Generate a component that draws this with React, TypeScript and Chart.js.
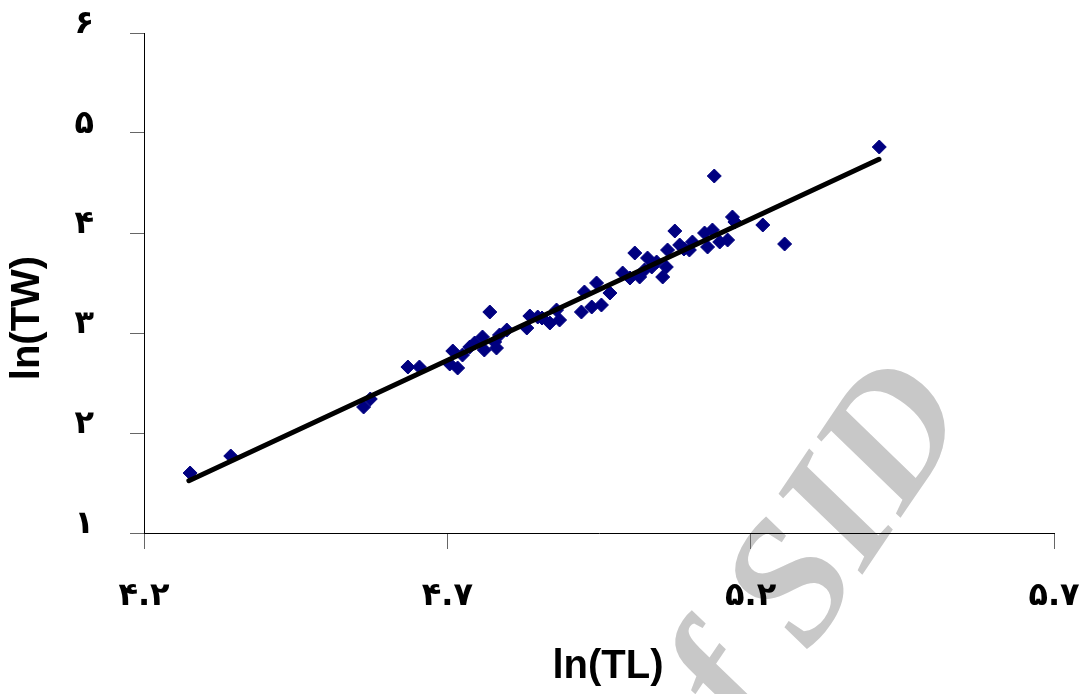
import React, { useEffect, useRef } from 'react';
import { Chart, registerables } from 'chart.js';

Chart.register(...registerables);

// Observed fish measurements (natural log of total length and total weight)
const lnTL = [
  4.276, 4.343, 4.562, 4.573, 4.635, 4.654, 4.704, 4.709, 4.717, 4.725,
  4.737, 4.745, 4.758, 4.761, 4.770, 4.778, 4.781, 4.786, 4.798, 4.831,
  4.836, 4.849, 4.856, 4.869, 4.880, 4.885, 4.921, 4.926, 4.938, 4.946,
  4.954, 4.968, 4.989, 5.001, 5.009, 5.017, 5.025, 5.030, 5.037, 5.045,
  5.055, 5.061, 5.063, 5.075, 5.083, 5.090, 5.099, 5.104, 5.124, 5.129,
  5.137, 5.140, 5.149, 5.162, 5.170, 5.174, 5.220, 5.256, 5.412,
];
const lnTW = [
  1.60, 1.77, 2.26, 2.34, 2.66, 2.66, 2.69, 2.82, 2.65, 2.78,
  2.86, 2.90, 2.96, 2.83, 3.21, 2.91, 2.85, 2.98, 3.03, 3.05,
  3.17, 3.16, 3.15, 3.10, 3.23, 3.13, 3.21, 3.41, 3.26, 3.50,
  3.28, 3.40, 3.60, 3.55, 3.80, 3.56, 3.63, 3.75, 3.66, 3.71,
  3.56, 3.66, 3.83, 4.02, 3.88, 3.84, 3.83, 3.91, 4.00, 3.86,
  4.03, 4.57, 3.91, 3.93, 4.16, 4.11, 4.08, 3.89, 4.86,
];

// Fitted trend line end points
const trendTL = [4.274, 5.4115];
const trendTW = [1.523, 4.737];

const xTicks = [4.2, 4.7, 5.2, 5.7];
const xTickLabels = ['۴.۲', '۴.۷', '۵.۲', '۵.۷'];
const yTicks = [1, 2, 3, 4, 5, 6];
const yTickLabels = ['۱', '۲', '۳', '۴', '۵', '۶'];

const xTitle = 'ln(TL)';
const yTitle = 'ln(TW)';
const watermarkText = 'Archive of SID';

const titlesPlugin = {
  id: 'titlesPlugin',
  beforeDraw(chart: any) {
    const ctx = chart.ctx;
    ctx.save();
    ctx.fillStyle = '#c8c8c8';
    ctx.font = 'italic bold 175px "Liberation Serif", serif';
    ctx.textAlign = 'right';
    ctx.textBaseline = 'alphabetic';
    ctx.translate(972, 412);
    ctx.rotate((-56 * Math.PI) / 180);
    ctx.fillText(watermarkText, 0, 0);
    ctx.restore();
  },
  afterDraw(chart: any) {
    const ctx = chart.ctx;
    ctx.save();
    ctx.fillStyle = '#000';
    ctx.font = 'bold 40px "Liberation Sans", Arial, sans-serif';
    ctx.textAlign = 'center';
    ctx.textBaseline = 'middle';
    ctx.fillText(xTitle, 608, 667);
    ctx.translate(28, 318);
    ctx.rotate(-Math.PI / 2);
    ctx.fillText(yTitle, 0, 0);
    ctx.restore();
  },
};

export default function App() {
  const canvasRef = useRef<HTMLCanvasElement | null>(null);

  useEffect(() => {
    const canvas = canvasRef.current;
    if (!canvas) return;
    const points = lnTL.map((x, i) => ({ x, y: lnTW[i] }));
    const trend = trendTL.map((x, i) => ({ x, y: trendTW[i] }));
    const tickFont = { family: '"DejaVu Sans", sans-serif', size: 32, weight: 'bold' as const };

    const chart = new Chart(canvas, {
      type: 'scatter',
      data: {
        datasets: [
          {
            type: 'line',
            label: 'trend',
            data: trend,
            borderColor: '#000',
            borderWidth: 5,
            borderCapStyle: 'round',
            pointRadius: 0,
            showLine: true,
            fill: false,
            order: 0,
          } as any,
          {
            type: 'scatter',
            label: 'data',
            data: points,
            pointStyle: 'rectRot',
            pointRadius: 7,
            pointBackgroundColor: '#000080',
            pointBorderColor: '#000080',
            pointBorderWidth: 1,
            order: 1,
          } as any,
        ],
      },
      options: {
        responsive: false,
        animation: false,
        layout: { padding: { left: 0, top: 33, right: 31, bottom: 0 } },
        plugins: {
          legend: { display: false },
          tooltip: { enabled: false },
          title: { display: false },
        },
        scales: {
          x: {
            type: 'linear',
            min: 4.2,
            max: 5.7,
            afterBuildTicks: (scale: any) => {
              scale.ticks = xTicks.map((v) => ({ value: v }));
            },
            afterFit: (scale: any) => {
              scale.height = 161;
              scale.paddingLeft = 0;
              scale.paddingRight = 0;
            },
            ticks: {
              callback: (_v: any, i: number) => xTickLabels[i],
              font: tickFont,
              color: '#000',
              padding: 28,
              maxRotation: 0,
              autoSkip: false,
            },
            grid: {
              display: true,
              drawOnChartArea: false,
              drawTicks: true,
              tickLength: 16,
              color: '#666',
              lineWidth: 1,
            },
            border: { display: true, color: '#000', width: 1 },
          },
          y: {
            type: 'linear',
            min: 1,
            max: 6,
            afterBuildTicks: (scale: any) => {
              scale.ticks = yTicks.map((v) => ({ value: v }));
            },
            afterFit: (scale: any) => {
              scale.width = 144;
              scale.paddingTop = 0;
              scale.paddingBottom = 0;
            },
            ticks: {
              callback: (_v: any, i: number) => yTickLabels[i],
              font: tickFont,
              color: '#000',
              padding: 36,
              labelOffset: -8,
              autoSkip: false,
            },
            grid: {
              display: true,
              drawOnChartArea: false,
              drawTicks: true,
              tickLength: 14,
              color: '#666',
              lineWidth: 1,
            },
            border: { display: true, color: '#000', width: 1 },
          },
        },
      },
      plugins: [titlesPlugin],
    });

    return () => {
      chart.destroy();
    };
  }, []);

  return (
    <div style={{ position: 'fixed', left: 0, top: 0, width: 1085, height: 694, background: '#fff' }}>
      <canvas ref={canvasRef} width={1085} height={694} style={{ display: 'block' }} />
    </div>
  );
}
